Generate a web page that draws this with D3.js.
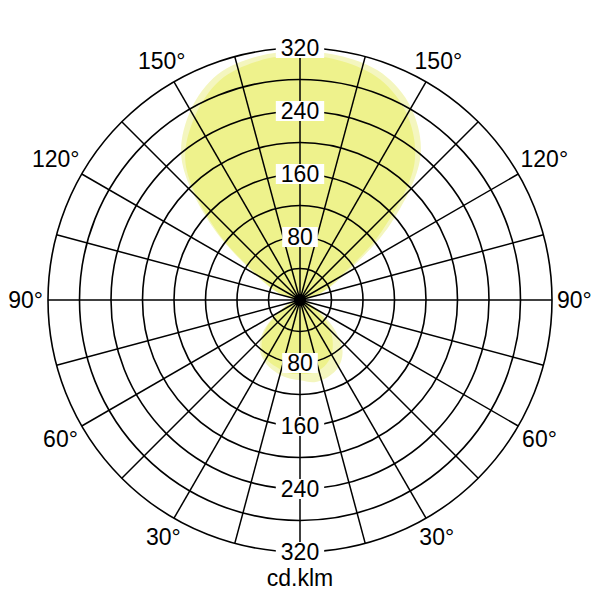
<!DOCTYPE html>
<html>
<head>
<meta charset="utf-8">
<script src="https://cdn.jsdelivr.net/npm/d3@7"></script>
<style>
  body { margin: 0; background: #fff; }
  svg text { font-family: "Liberation Sans", Arial, sans-serif; fill: #000; }
</style>
</head>
<body>
<div id="container"></div>
<script>
const width = 600;
const height = 600;

// gamma angle, 0 = straight down, 180 = straight up, going round clockwise on screen
const angles = [0, 10, 20, 30, 40, 50, 60, 70, 80, 90, 100, 110, 120, 130, 140, 150, 160, 170,
    180, 190, 200, 210, 220, 230, 240, 250, 260, 270, 280, 290, 300, 310, 320, 330, 340, 350];

// outer (lighter) curve
const planeA = [102, 106, 104, 98, 84, 56, 28, 12, 5, 4, 8, 32, 66, 150, 238, 282, 306, 314,
    316, 314, 305, 278, 234, 146, 66, 34, 10, 4, 6, 16, 34, 60, 80, 90, 96, 100];
// inner (darker) curve
const planeB = [94, 94, 90, 80, 64, 44, 22, 10, 5, 4, 8, 30, 58, 135, 226, 272, 298, 308,
    311, 308, 297, 268, 226, 140, 62, 32, 10, 4, 6, 14, 30, 56, 76, 86, 90, 94];

const ringTicks = [40, 80, 120, 160, 200, 240, 280, 320];
const valueLabels = [80, 160, 240, 320];
const angleLabels = [30, 60, 90, 120, 150];
const unitLabel = 'cd.klm';

const cx = width / 2;
const cy = height / 2;
const rMax = 252;
const fontSize = 23;

const r = d3.scaleLinear().domain([0, 320]).range([0, rMax]);
const toRad = a => Math.PI - a * Math.PI / 180;   // gamma -> d3 radial angle

const svg = d3.select('#container').append('svg')
    .attr('width', width)
    .attr('height', height)
    .attr('viewBox', `0 0 ${width} ${height}`);

const g = svg.append('g').attr('transform', `translate(${cx},${cy})`);

const curve = vals => d3.lineRadial()
    .angle((d, i) => toRad(angles[i]))
    .radius(d => r(d))
    .curve(d3.curveCatmullRomClosed)(vals);

g.append('path').attr('d', curve(planeA)).attr('fill', '#f4f6bf');
g.append('path').attr('d', curve(planeB)).attr('fill', '#eef28c');

// grid
const grid = g.append('g').attr('stroke', '#000').attr('fill', 'none');

grid.selectAll('circle.ring')
    .data(ringTicks)
    .join('circle')
    .attr('class', 'ring')
    .attr('r', d => r(d))
    .attr('stroke-width', 1.6);

grid.selectAll('line.spoke')
    .data(d3.range(0, 360, 15))
    .join('line')
    .attr('class', 'spoke')
    .attr('x1', 0).attr('y1', 0)
    .attr('x2', d => rMax * Math.sin(toRad(d)))
    .attr('y2', d => -rMax * Math.cos(toRad(d)))
    .attr('stroke-width', 1.5);

g.append('circle').attr('r', 6).attr('fill', '#000');

// value labels on vertical axis (up and down)
const valData = [];
valueLabels.forEach(v => { valData.push({ v, dir: -1 }); valData.push({ v, dir: 1 }); });

const vl = g.selectAll('g.val')
    .data(valData)
    .join('g')
    .attr('class', 'val')
    .attr('transform', d => `translate(0,${d.dir * r(d.v)})`);

vl.append('text')
    .attr('text-anchor', 'middle')
    .attr('dy', '0.36em')
    .attr('font-size', fontSize)
    .text(d => d.v);

vl.each(function() {
    const t = d3.select(this).select('text');
    const w = t.node().getComputedTextLength();
    d3.select(this).insert('rect', 'text')
        .attr('x', -w / 2 - 5)
        .attr('y', -10)
        .attr('width', w + 10)
        .attr('height', 20)
        .attr('fill', '#fff');
});

// angle labels on both sides
const angData = [];
angleLabels.forEach(a => { angData.push(a); angData.push(360 - a); });

g.selectAll('text.ang')
    .data(angData)
    .join('text')
    .attr('class', 'ang')
    .attr('text-anchor', 'middle')
    .attr('dy', '0.36em')
    .attr('font-size', fontSize)
    .text(d => (d > 180 ? 360 - d : d) + '°')
    .each(function(d) {
        const hw = this.getComputedTextLength() / 2;
        const hh = 9;
        const th = toRad(d);
        const rr = rMax + 5 + hw * Math.abs(Math.sin(th)) + hh * Math.abs(Math.cos(th));
        d3.select(this)
            .attr('x', rr * Math.sin(th))
            .attr('y', -rr * Math.cos(th));
    });

svg.append('text')
    .attr('x', cx)
    .attr('y', 578)
    .attr('text-anchor', 'middle')
    .attr('dy', '0.36em')
    .attr('font-size', fontSize)
    .text(unitLabel);
</script>
</body>
</html>
